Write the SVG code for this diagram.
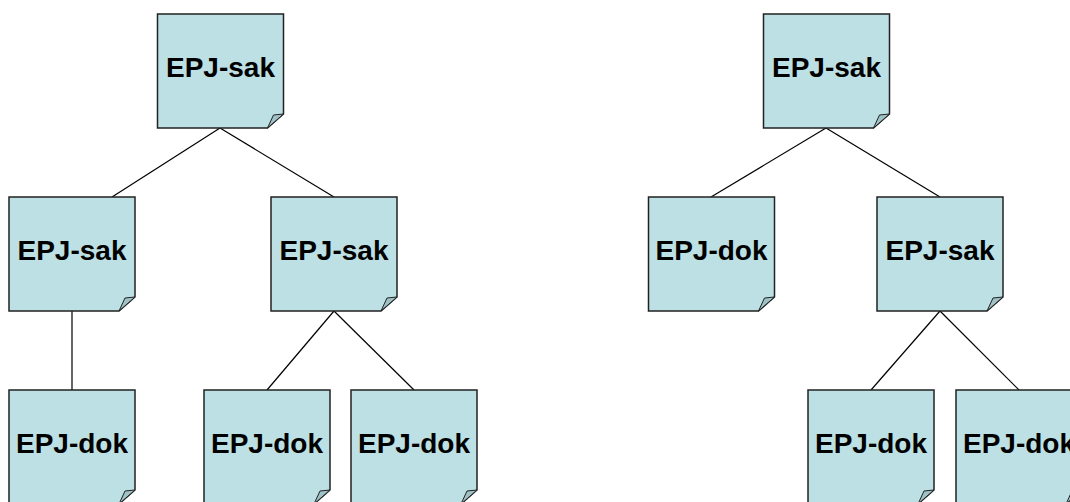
<svg xmlns="http://www.w3.org/2000/svg" width="1070" height="502" viewBox="0 0 1070 502">
<style>
.box{fill:#bce0e3;stroke:#222;stroke-width:1.5}
.fold{fill:#9fc2c6;stroke:#222;stroke-width:1}
.lbl{font-family:"Liberation Sans",Arial,sans-serif;font-weight:bold;font-size:28px;fill:#000;text-anchor:middle}
.edge{stroke:#000;stroke-width:1.2;fill:none}
</style>
<defs>
<g id="note">
<path class="box" d="M0,0 H126 V100 L110,114 H0 Z"/>
<path class="fold" d="M110,114 L116,101 L126,100 Z"/>
</g>
</defs>
<rect width="1070" height="502" fill="#fff"/>
<g id="connectors">
<line class="edge" x1="220" y1="128" x2="112" y2="197"/>
<line class="edge" x1="220" y1="128" x2="334" y2="197"/>
<line class="edge" x1="72" y1="311" x2="72" y2="390"/>
<line class="edge" x1="334" y1="311" x2="267" y2="390"/>
<line class="edge" x1="334" y1="311" x2="414" y2="390"/>
<line class="edge" x1="826" y1="128" x2="711" y2="197"/>
<line class="edge" x1="826" y1="128" x2="940" y2="197"/>
<line class="edge" x1="940" y1="311" x2="871" y2="390"/>
<line class="edge" x1="940" y1="311" x2="1019" y2="390"/>
</g>
<g id="n1" transform="translate(157.5,14)"><use href="#note"/><text class="lbl" x="63" y="63">EPJ-sak</text></g>
<g id="n2" transform="translate(9,197)"><use href="#note"/><text class="lbl" x="63" y="63">EPJ-sak</text></g>
<g id="n3" transform="translate(271,197)"><use href="#note"/><text class="lbl" x="63" y="63">EPJ-sak</text></g>
<g id="n4" transform="translate(9,390)"><use href="#note"/><text class="lbl" x="63" y="63">EPJ-dok</text></g>
<g id="n5" transform="translate(204,390)"><use href="#note"/><text class="lbl" x="63" y="63">EPJ-dok</text></g>
<g id="n6" transform="translate(351,390)"><use href="#note"/><text class="lbl" x="63" y="63">EPJ-dok</text></g>
<g id="n7" transform="translate(763.5,14)"><use href="#note"/><text class="lbl" x="63" y="63">EPJ-sak</text></g>
<g id="n8" transform="translate(648.5,197)"><use href="#note"/><text class="lbl" x="63" y="63">EPJ-dok</text></g>
<g id="n9" transform="translate(877,197)"><use href="#note"/><text class="lbl" x="63" y="63">EPJ-sak</text></g>
<g id="n10" transform="translate(808,390)"><use href="#note"/><text class="lbl" x="63" y="63">EPJ-dok</text></g>
<g id="n11" transform="translate(956,390)"><use href="#note"/><text class="lbl" x="63" y="63">EPJ-dok</text></g>
</svg>
